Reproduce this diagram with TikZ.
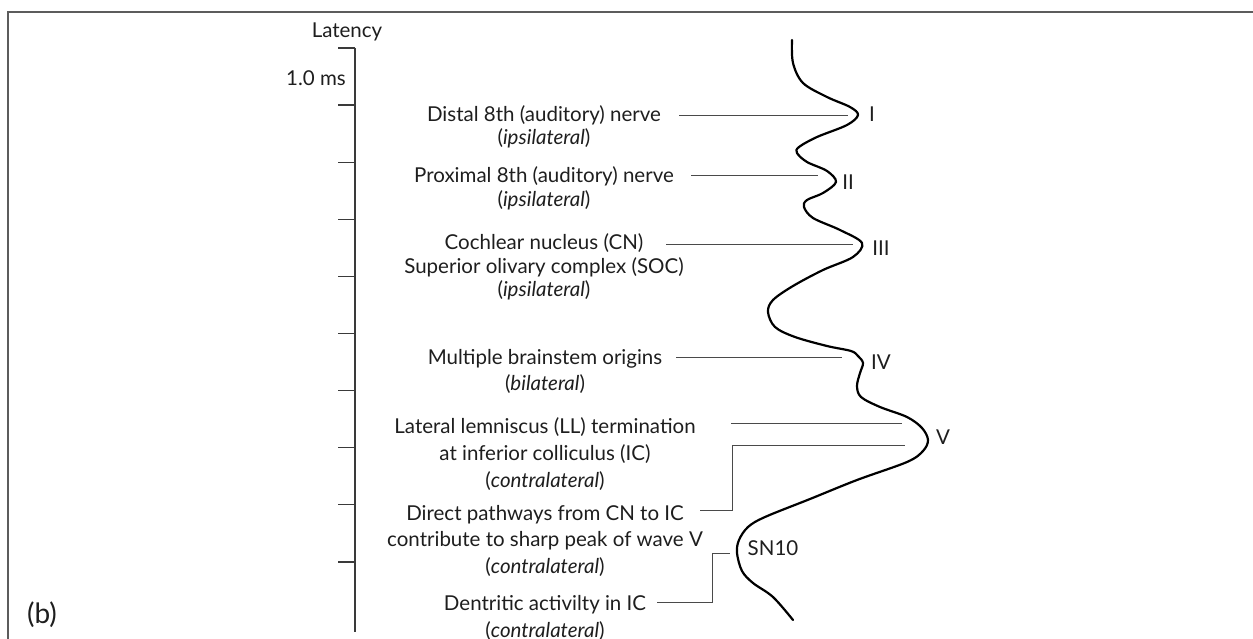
\documentclass[tikz,border=0pt]{standalone}
\usepackage{fontspec}
\setmainfont{Lato}
\usetikzlibrary{calc}
\definecolor{framegray}{HTML}{5C5C5C}
\definecolor{thingray}{HTML}{4A4A4A}
\definecolor{axisgray}{HTML}{3A3A3A}
\definecolor{txt}{HTML}{1E1E1E}
\begin{document}
\begin{tikzpicture}[x=1pt,y=-1pt,
  lbl/.style={inner sep=0pt, anchor=base, font=\fontsize{20.5}{22}\selectfont, text=txt},
  numlbl/.style={inner sep=0pt, anchor=base, font=\fontsize{20.5}{22}\selectfont, text=txt},
  conn/.style={draw=thingray, line width=0.9pt},
  wave/.style={draw=black, line width=2.2pt, line join=round, line cap=round},
  axisline/.style={draw=axisgray, line width=1.3pt},
  framestyle/.style={draw=framegray, line width=1.8pt}]
\useasboundingbox (0,0) rectangle (1253,639);
% frame
\draw[framestyle] (8,639) -- (8,12) -- (1253,12);
% axis
\coordinate (axTop) at (355,48);
\coordinate (axBot) at (355,632);
\draw[axisline] (axTop) -- (axBot);
\foreach \k in {0,...,9} {\draw[axisline] (338,48+57.1*\k) -- (355,48+57.1*\k);}
\node[lbl] (latency) at (347,38) {Latency};
\node[lbl] (ms) at (316,86) {1.0 ms};
\node[inner sep=0pt, anchor=base, font=\fontsize{28}{30}\selectfont, text=txt] (b) at (42,623) {(b)};
% labels upper
\node[lbl] (distal) at (544,122) {Distal 8th (auditory) nerve};
\node[lbl] (distalS) at (544,145) {(\textit{ipsilateral})};
\node[lbl] (prox) at (544,183) {Proximal 8th (auditory) nerve};
\node[lbl] (proxS) at (544,207) {(\textit{ipsilateral})};
\node[lbl] (coch) at (544,250) {Cochlear nucleus (CN)};
\node[lbl] (soc) at (544,273) {Superior olivary complex (SOC)};
\node[lbl] (socS) at (544,296) {(\textit{ipsilateral})};
% labels lower
\node[lbl] (multi) at (545,364) {Multiple brainstem origins};
\node[lbl] (multiS) at (545,390) {(\textit{bilateral})};
\node[lbl] (lat) at (545,433) {Lateral lemniscus (LL) termination};
\node[lbl] (lat2) at (545,460) {at inferior colliculus (IC)};
\node[lbl] (latS) at (545,487) {(\textit{contralateral})};
\node[lbl] (dir) at (545,520) {Direct pathways from CN to IC};
\node[lbl] (dir2) at (545,546) {contribute to sharp peak of wave V};
\node[lbl] (dirS) at (545,573) {(\textit{contralateral})};
\node[lbl] (den) at (545,610) {Dentritic activilty in IC};
\node[lbl] (denS) at (545,637) {(\textit{contralateral})};
% wave labels
\node[numlbl] (wI) at (872,122) {I};
\node[numlbl] (wII) at (848,190) {II};
\node[numlbl] (wIII) at (881,255) {III};
\node[numlbl] (wIV) at (881,369) {IV};
\node[numlbl] (wV) at (943,444) {V};
\node[numlbl] (wSN) at (773,555) {SN10};
% waveform
\draw[wave] plot[smooth, tension=0.55] coordinates {
 (792,40) (793,63) (803,83) (827,97) (850,107) (858,115) (847,125) (817,137)
 (799,147) (797,153) (807,162) (827,171) (836,182) (823,193) (807,200) (804,207)
 (813,218) (840,230) (862,243) (853,257) (823,270) (793,286) (773,300) (768,312)
 (775,327) (795,337) (827,346) (851,351) (858,356) (863,363) (860,373) (857,386)
 (861,397) (880,407) (907,417) (922,428) (928,440) (923,451) (907,462) (857,480)
 (810,499) (765,517) (748,527) (739,540) (737,553) (742,571) (753,583) (773,597) (793,620)};
% connector endpoints
\coordinate (cDa) at (679,115); \coordinate (cDb) at (848,115);
\coordinate (cPa) at (691,175); \coordinate (cPb) at (818,175);
\coordinate (cCa) at (666,244); \coordinate (cCb) at (853,244);
\coordinate (cMa) at (676,357); \coordinate (cMb) at (842,357);
\coordinate (cLa) at (731,423); \coordinate (cLb) at (902,423);
\coordinate (cRa) at (700,510); \coordinate (cRk) at (732,445); \coordinate (cRb) at (905,445);
\coordinate (cTa) at (657,602); \coordinate (cTk) at (712,553); \coordinate (cTb) at (730,553);
\draw[conn] (cDa) -- (cDb);
\draw[conn] (cPa) -- (cPb);
\draw[conn] (cCa) -- (cCb);
\draw[conn] (cMa) -- (cMb);
\draw[conn] (cLa) -- (cLb);
\draw[conn] (cRa) -| (cRk) -- (cRb);
\draw[conn] (cTa) -| (cTk) -- (cTb);
\end{tikzpicture}
\end{document}
